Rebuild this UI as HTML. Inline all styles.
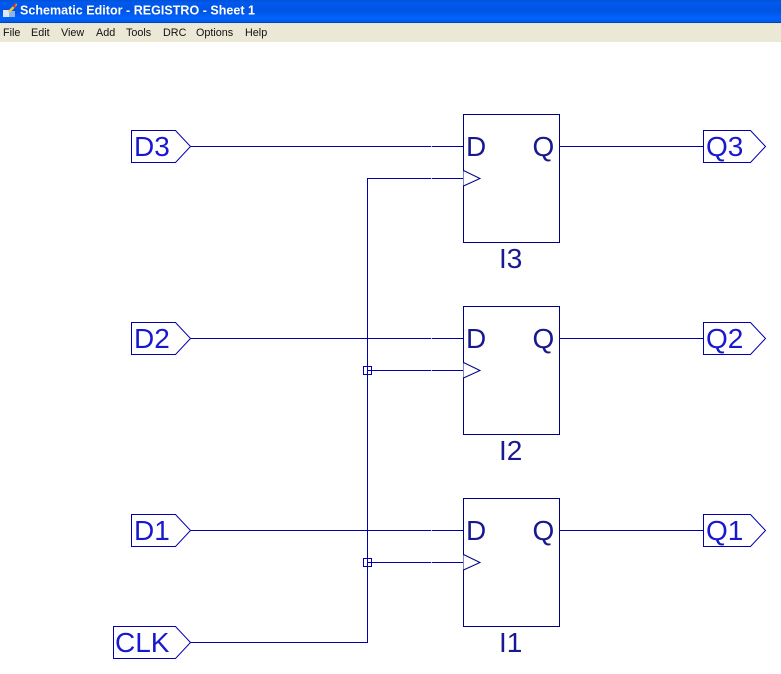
<!DOCTYPE html>
<html lang="en">
<head>
<meta charset="utf-8">
<title>Schematic Editor - REGISTRO - Sheet 1</title>
<style>
html,body{margin:0;padding:0;background:#fff}
svg{display:block;width:781px;height:674px}
text{font-family:"Liberation Sans",sans-serif}
.menu{font-size:10.8px;fill:#111}
.w{stroke:#0000b0;stroke-width:1;fill:none;shape-rendering:crispEdges}
.b{stroke:#000080;stroke-width:1;fill:#fff;shape-rendering:crispEdges}
.p{stroke:#0000b0;stroke-width:1;fill:#fff}
.t{stroke:#000080;stroke-width:1;fill:#fff}
.pt{font-size:28px;fill:#1818d0}
.bt{font-size:28px;fill:#181890}
</style>
</head>
<body>
<svg xmlns="http://www.w3.org/2000/svg" width="781" height="674" viewBox="0 0 781 674">
<defs>
<linearGradient id="tb" x1="0" y1="0" x2="0" y2="1">
<stop offset="0" stop-color="#0053d8"/>
<stop offset="0.12" stop-color="#0058ee"/>
<stop offset="0.45" stop-color="#0054e3"/>
<stop offset="0.8" stop-color="#0064ff"/>
<stop offset="0.95" stop-color="#0058e0"/>
<stop offset="1" stop-color="#003c9c"/>
</linearGradient>
</defs>
<rect x="0" y="0" width="781" height="674" fill="#fff"/>
<rect x="0" y="0" width="781" height="23" fill="url(#tb)"/>
<rect x="0" y="23" width="781" height="19" fill="#ebe8d6"/>
<rect x="0" y="23" width="781" height="1" fill="#e2e2e2"/>
<rect x="3" y="10" width="6" height="7" fill="#dfe8f8"/>
<rect x="9" y="11" width="6" height="6" fill="#8fb4e8"/>
<path d="M8 11 L16 3 L17 5 L10 13 Z" fill="#e8c840"/>
<path d="M12 6 L16 3 L15 8 Z" fill="#d03030"/>
<text x="20" y="14.5" font-size="12.5" font-weight="700" fill="#fff" textLength="235" lengthAdjust="spacing">Schematic Editor - REGISTRO - Sheet 1</text>
<text class="menu" x="3" y="36">File</text>
<text class="menu" x="31" y="36">Edit</text>
<text class="menu" x="61" y="36">View</text>
<text class="menu" x="96" y="36">Add</text>
<text class="menu" x="126" y="36">Tools</text>
<text class="menu" x="163" y="36">DRC</text>
<text class="menu" x="196" y="36">Options</text>
<text class="menu" x="245" y="36">Help</text>

<!-- Wires -->
<path class="w" d="M190.5 146.5H463M190.5 338.5H463M190.5 530.5H463"/>
<path class="w" d="M190.5 642.5H367.5V178.5H463"/>
<path class="w" d="M367.5 370.5H463M367.5 562.5H463"/>
<path class="w" d="M559 146.5H703M559 338.5H703M559 530.5H703"/>
<rect class="w" x="363.5" y="366.5" width="8" height="8"/>
<rect class="w" x="363.5" y="558.5" width="8" height="8"/>
<path d="M431 146.5h1M431 178.5h1M431 338.5h1M431 370.5h1M431 530.5h1M431 562.5h1" stroke="#b8b8e0" stroke-width="1" fill="none" shape-rendering="crispEdges"/>

<!-- Blocks -->
<rect class="b" x="463.5" y="114.5" width="96" height="128"/>
<rect class="b" x="463.5" y="306.5" width="96" height="128"/>
<rect class="b" x="463.5" y="498.5" width="96" height="128"/>
<path class="t" d="M463.5 170.5L480 178.5L463.5 186"/>
<path class="t" d="M463.5 362.5L480 370.5L463.5 378"/>
<path class="t" d="M463.5 554.5L480 562.5L463.5 570"/>

<text class="bt" x="466" y="156">D</text>
<text class="bt" x="532.5" y="156">Q</text>
<text class="bt" x="499" y="268">I3</text>
<text class="bt" x="466" y="348">D</text>
<text class="bt" x="532.5" y="348">Q</text>
<text class="bt" x="499" y="460">I2</text>
<text class="bt" x="466" y="540">D</text>
<text class="bt" x="532.5" y="540">Q</text>
<text class="bt" x="499" y="652">I1</text>

<!-- Input ports -->
<path class="p" d="M131.5 130.5H175.5L190.5 146.5L175.5 162.5H131.5Z"/>
<path class="p" d="M131.5 322.5H175.5L190.5 338.5L175.5 354.5H131.5Z"/>
<path class="p" d="M131.5 514.5H175.5L190.5 530.5L175.5 546.5H131.5Z"/>
<path class="p" d="M113.5 626.5H175.5L190.5 642.5L175.5 658.5H113.5Z"/>
<text class="pt" x="134" y="156">D3</text>
<text class="pt" x="134" y="348">D2</text>
<text class="pt" x="134" y="540">D1</text>
<text class="pt" x="115" y="652">CLK</text>

<!-- Output ports -->
<path class="p" d="M703.5 130.5H750.5L765.5 146.5L750.5 162.5H703.5Z"/>
<path class="p" d="M703.5 322.5H750.5L765.5 338.5L750.5 354.5H703.5Z"/>
<path class="p" d="M703.5 514.5H750.5L765.5 530.5L750.5 546.5H703.5Z"/>
<text class="pt" x="706" y="156">Q3</text>
<text class="pt" x="706" y="348">Q2</text>
<text class="pt" x="706" y="540">Q1</text>
</svg>
</body>
</html>
